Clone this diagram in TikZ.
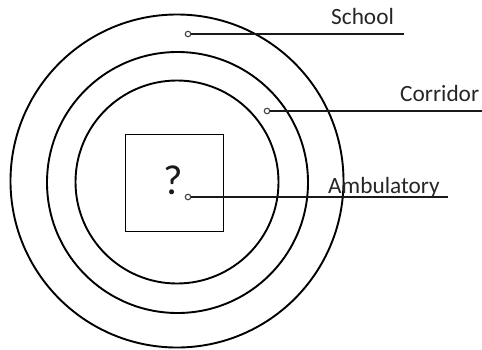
\documentclass[tikz,border=0pt]{standalone}
\usepackage{fontspec}
\setmainfont{Carlito}
\begin{document}
\begin{tikzpicture}[x=1pt,y=-1pt,
  ring/.style={draw=black,line width=1.9pt,circle,inner sep=0pt},
  marker/.style={draw=black!75,fill=white,circle,line width=1.1pt,inner sep=0pt,minimum size=5.5pt},
  leader/.style={draw=black!90,line width=2pt},
  lbl/.style={anchor=base west,inner sep=0pt,font=\fontsize{23.3}{26}\selectfont,text=black!85}]
\useasboundingbox (0,0) rectangle (482,349);
\node[ring,minimum size=333pt] (outer) at (177,181) {};
\node[ring,minimum size=261pt] (middle) at (177.5,182.5) {};
\node[ring,minimum size=203pt] (inner) at (177,182) {};
\node[draw=black,line width=1.9pt,minimum width=98pt,minimum height=97pt,inner sep=0pt] (box) at (174.5,183) {};
\node[anchor=base,inner sep=0pt,font=\fontsize{42}{44}\selectfont,text=black!90] (q) at (173,194) {?};
\coordinate (se) at (404,34);
\coordinate (ce) at (482,111);
\coordinate (ae) at (448,197);
\node[marker] (sm) at (188,34) {};
\node[marker] (cm) at (267,111) {};
\node[marker] (am) at (188,197) {};
\draw[leader] (sm) -- (se);
\draw[leader] (cm) -- (ce);
\draw[leader] (am) -- (ae);
\node[lbl] (school) at (331,24.5) {School};
\node[lbl] (corridor) at (400,101) {Corridor};
\node[lbl] (amb) at (328,193.5) {Ambulatory};
\end{tikzpicture}
\end{document}
